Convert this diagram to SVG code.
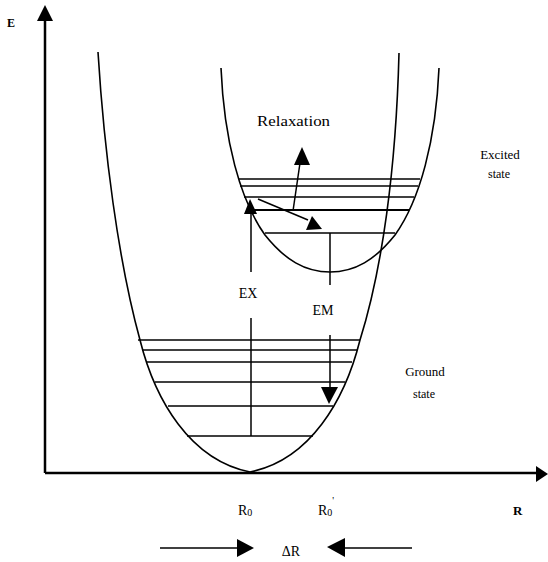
<svg xmlns="http://www.w3.org/2000/svg" width="548" height="562" viewBox="0 0 548 562">
<style>
.c{fill:none;stroke:#000;stroke-width:1.6}
.l{fill:none;stroke:#000;stroke-width:1.5}
.lv{fill:none;stroke:#000;stroke-width:2}
.ax{fill:none;stroke:#000;stroke-width:2.5}
.h{fill:#000}
text{font-family:"Liberation Serif","Times New Roman",serif;fill:#000}
</style>
<rect width="548" height="562" fill="#fff"/>
<g id="axes">
<line class="ax" x1="45" y1="18" x2="45" y2="473"/>
<polygon class="h" points="45,5 37,21 53,21"/>
<line class="ax" x1="45" y1="473" x2="538" y2="473"/>
<polygon class="h" points="548,474 536,466 536,482"/>
<text x="7" y="27" font-size="12" font-weight="bold">E</text>
<text x="513" y="515" font-size="13" font-weight="bold">R</text>
</g>
<g id="ground-curve">
<path class="c" d="M98,52 C104,150 118,260 140,340 C155,400 190,460 250,472 C310,460 345,400 360,340 C382,270 396,170 399,53"/>
</g>
<g id="excited-curve">
<path class="c" d="M221,68 C224,140 240,200 265,235 C285,260 305,272 330,272 C355,272 375,260 395,235 C420,200 436,140 439,68"/>
</g>
<g id="ground-levels">
<line class="l" x1="138" y1="340" x2="360" y2="340"/>
<line class="l" x1="142" y1="350" x2="357" y2="350"/>
<line class="l" x1="147" y1="362" x2="352" y2="362"/>
<line class="l" x1="155" y1="382" x2="345" y2="382"/>
<line class="l" x1="168" y1="406" x2="333" y2="406"/>
<line class="l" x1="187" y1="436" x2="313" y2="436"/>
</g>
<g id="excited-levels">
<line class="l" x1="239" y1="179" x2="420" y2="179"/>
<line class="l" x1="240" y1="186" x2="418" y2="186"/>
<line class="l" x1="244" y1="197" x2="414" y2="197"/>
<line class="lv" x1="247" y1="210" x2="409" y2="210"/>
<line class="l" x1="265" y1="233" x2="395" y2="233"/>
</g>
<g id="connectors">
<line class="l" x1="251" y1="436" x2="251" y2="318"/>
<line class="l" x1="251" y1="272" x2="251" y2="210"/>
<polygon class="h" points="250,199 244,214 257,214"/>
<line class="l" x1="258" y1="199" x2="308" y2="220"/>
<polygon class="h" points="306,230 322,229 312,216"/>
<line class="l" x1="293" y1="211" x2="300" y2="163"/>
<polygon class="h" points="302,147 294,165 310,165"/>
<line class="l" x1="330" y1="233" x2="330" y2="285"/>
<line class="l" x1="330" y1="335" x2="330" y2="390"/>
<polygon class="h" points="329,404 321,387 338,387"/>
<line class="l" x1="160" y1="548" x2="238" y2="548"/>
<polygon class="h" points="254,548 237,539 237,557"/>
<line class="l" x1="344" y1="548" x2="412" y2="548"/>
<polygon class="h" points="327,547 345,538 345,557"/>
</g>
<g id="labels">
<text x="257" y="126" font-size="14" textLength="73" lengthAdjust="spacingAndGlyphs">Relaxation</text>
<text x="500" y="159" font-size="13" text-anchor="middle">Excited</text>
<text x="499" y="178" font-size="12" text-anchor="middle">state</text>
<text x="248" y="298" font-size="14" text-anchor="middle">EX</text>
<text x="323" y="315" font-size="14" text-anchor="middle">EM</text>
<text x="425" y="376" font-size="13" text-anchor="middle">Ground</text>
<text x="424" y="398" font-size="12" text-anchor="middle">state</text>
<text x="238" y="515" font-size="14">R<tspan font-size="10" dy="1">0</tspan></text>
<text x="318" y="515" font-size="14">R<tspan font-size="10" dy="1">0</tspan><tspan font-size="10" dy="-12">'</tspan></text>
<text x="291" y="556" font-size="14" text-anchor="middle">ΔR</text>
</g>
</svg>
